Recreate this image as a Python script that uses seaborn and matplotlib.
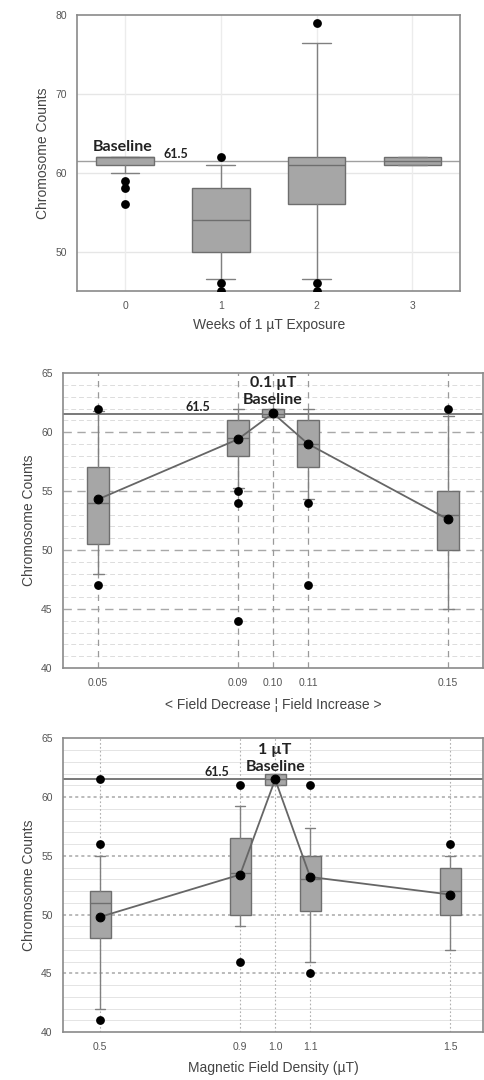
import numpy as np
import pandas as pd
import seaborn as sns
import matplotlib.pyplot as plt

# ---------------- data ----------------
# panel 1: weeks of 1 uT exposure
weeks = [0, 1, 2, 3]
wk_q1 = [61, 50, 56, 61]
wk_med = [62, 54, 61, 61.5]
wk_q3 = [62, 58, 62, 62]
wk_whislo = [60, 46.5, 46.5, 61]
wk_whishi = [62, 61, 76.5, 62]
wk_fliers = [[59, 58, 56], [62, 46, 45], [79, 46, 45], []]

# panel 2: field decrease / increase around 0.1 uT
dec_x = [0.05, 0.09, 0.10, 0.11, 0.15]
dec_q1 = [50.5, 58, 61.3, 57, 50]
dec_med = [54, 59.5, 61.5, 59, 53]
dec_q3 = [57, 61, 62, 61, 55]
dec_whislo = [48, 55.3, 61.3, 54.3, 45]
dec_whishi = [61.8, 62, 62, 62, 61.4]
dec_mean = [54.3, 59.4, 61.6, 59.0, 52.6]
dec_fliers = [[62, 47], [55, 54, 44], [], [54, 47], [62]]

# panel 3: magnetic field density around 1 uT
den_x = [0.5, 0.9, 1.0, 1.1, 1.5]
den_q1 = [48, 50, 61, 50.3, 50]
den_med = [51, 53.5, 61.5, 53, 52]
den_q3 = [52, 56.5, 62, 55, 54]
den_whislo = [42, 49, 61, 46, 47]
den_whishi = [55, 59.2, 62, 57.4, 55]
den_mean = [49.8, 53.4, 61.5, 53.2, 51.7]
den_fliers = [[61.5, 56, 41], [61, 46], [], [61, 45], [56]]

baseline = 61.5

sns.set_style("white")
plt.rcParams["font.family"] = ["Liberation Sans", "DejaVu Sans"]

BOX_FACE = "#a6a6a6"
BOX_EDGE = "#6e6e6e"
TICK_COL = "#555555"


def make_stats(q1, med, q3, lo, hi):
    out = []
    for a, m, b, l, h in zip(q1, med, q3, lo, hi):
        out.append(dict(q1=a, med=m, q3=b, whislo=l, whishi=h, fliers=[]))
    return out


def draw_boxes(ax, stats, pos, width):
    ax.bxp(stats, positions=pos, widths=width, showfliers=False, patch_artist=True,
           boxprops=dict(facecolor=BOX_FACE, edgecolor=BOX_EDGE, linewidth=1),
           medianprops=dict(color=BOX_EDGE, linewidth=1),
           whiskerprops=dict(color="#808080", linewidth=1),
           capprops=dict(color="#808080", linewidth=1),
           capwidths=width * 0.5, manage_ticks=False, zorder=3)


def draw_fliers(ax, pos, fliers):
    fx, fy = [], []
    for p, fl in zip(pos, fliers):
        for v in fl:
            fx.append(p)
            fy.append(v)
    sns.scatterplot(x=fx, y=fy, ax=ax, color="black", s=40, edgecolor="black",
                    linewidth=0, zorder=6, legend=False)


def style_axes(ax):
    for s in ax.spines.values():
        s.set_color("#8a8a8a")
        s.set_linewidth(1.2)
    ax.tick_params(axis="both", colors=TICK_COL, labelsize=7.5, length=3, width=0.8,
                   direction="out", labelcolor=TICK_COL, pad=4.5)
    ax.set_ylabel("Chromosome Counts", fontsize=10, color="#444444")


fig = plt.figure(figsize=(4.85, 10.8), dpi=100)

bold = dict(family=["Lato", "DejaVu Sans"], fontweight="bold", color="#222222")

# ---------------- panel 1 ----------------
ax1 = fig.add_axes([0.159, 0.7306, 0.790, 0.2556])
ax1.set_xlim(-0.5, 3.5)
ax1.set_ylim(45, 80)
ax1.set_yticks([50, 60, 70, 80])
ax1.set_xticks(weeks)
for y in [50, 60, 70]:
    ax1.axhline(y, color="#e6e6e6", lw=1, zorder=0)
for x in weeks:
    ax1.axvline(x, color="#ececec", lw=1, zorder=0)
ax1.axhline(baseline, color="#a0a0a0", lw=1, zorder=2)
draw_boxes(ax1, make_stats(wk_q1, wk_med, wk_q3, wk_whislo, wk_whishi), weeks, 0.6)
draw_fliers(ax1, weeks, wk_fliers)
style_axes(ax1)
ax1.set_xlabel("Weeks of 1 \u00b5T Exposure", fontsize=10, color="#444444", labelpad=5)
ax1.text(-0.03, 63.2, "Baseline", ha="center", va="center", fontsize=11.5, **bold)
ax1.text(0.53, 62.4, "61.5", ha="center", va="center", fontsize=9, **bold)

# ---------------- panel 2 ----------------
ax2 = fig.add_axes([0.130, 0.3815, 0.866, 0.273])
ax2.set_xlim(0.04, 0.16)
ax2.set_ylim(40, 65)
ax2.set_yticks([40, 45, 50, 55, 60, 65])
ax2.set_xticks(dec_x)
ax2.set_xticklabels(["%.2f" % v for v in dec_x])
for y in range(41, 65):
    if y % 5:
        ax2.axhline(y, color="#dcdcdc", lw=0.7, ls=(0, (5, 3)), zorder=0)
for y in [45, 50, 55, 60]:
    ax2.axhline(y, color="#a8a8a8", lw=1, ls=(0, (6, 4)), zorder=1)
for x in dec_x:
    ax2.axvline(x, color="#9a9a9a", lw=0.9, ls=(0, (5, 4)), zorder=1)
ax2.axhline(baseline, color="#6e6e6e", lw=1.3, zorder=2)
draw_boxes(ax2, make_stats(dec_q1, dec_med, dec_q3, dec_whislo, dec_whishi), dec_x, 0.0063)
draw_fliers(ax2, dec_x, dec_fliers)
df2 = pd.DataFrame({"x": dec_x, "mean": dec_mean})
sns.lineplot(data=df2, x="x", y="mean", ax=ax2, color="#666666", lw=1.3, zorder=5,
             marker="o", markersize=6.3, markerfacecolor="black", markeredgecolor="black")
style_axes(ax2)
ax2.set_xlabel("< Field Decrease \u00a6 Field Increase >", fontsize=10, color="#444444", labelpad=7)
ax2.text(0.0786, 62.1, "61.5", ha="center", va="center", fontsize=9, **bold)
ax2.text(0.0999, 64.15, "0.1 \u00b5T", ha="center", va="center", fontsize=11.5, **bold)
ax2.text(0.0999, 62.7, "Baseline", ha="center", va="center", fontsize=11.5, **bold)

# ---------------- panel 3 ----------------
ax3 = fig.add_axes([0.130, 0.0444, 0.866, 0.272])
ax3.set_xlim(0.394, 1.594)
ax3.set_ylim(40, 65)
ax3.set_yticks([40, 45, 50, 55, 60, 65])
ax3.set_xticks(den_x)
ax3.set_xticklabels(["%.1f" % v for v in den_x])
for y in range(41, 65):
    if y % 5:
        ax3.axhline(y, color="#e4e4e4", lw=0.7, zorder=0)
for y in [45, 50, 55, 60]:
    ax3.axhline(y, color="#a8a8a8", lw=1.1, ls=(0, (2, 2)), zorder=1)
for x in den_x:
    ax3.axvline(x, color="#b0b0b0", lw=0.8, ls=(0, (1.5, 2)), zorder=1)
ax3.axhline(baseline, color="#6e6e6e", lw=1.3, zorder=2)
draw_boxes(ax3, make_stats(den_q1, den_med, den_q3, den_whislo, den_whishi), den_x, 0.06)
draw_fliers(ax3, den_x, den_fliers)
df3 = pd.DataFrame({"x": den_x, "mean": den_mean})
sns.lineplot(data=df3, x="x", y="mean", ax=ax3, color="#666666", lw=1.3, zorder=5,
             marker="o", markersize=6.3, markerfacecolor="black", markeredgecolor="black")
style_axes(ax3)
ax3.set_xlabel("Magnetic Field Density (\u00b5T)", fontsize=10, color="#444444", labelpad=6)
ax3.text(0.834, 62.1, "61.5", ha="center", va="center", fontsize=9, **bold)
ax3.text(1.0, 64.0, "1 \u00b5T", ha="center", va="center", fontsize=11.5, **bold)
ax3.text(1.0, 62.55, "Baseline", ha="center", va="center", fontsize=11.5, **bold)

fig.savefig("out.png", dpi=100)
